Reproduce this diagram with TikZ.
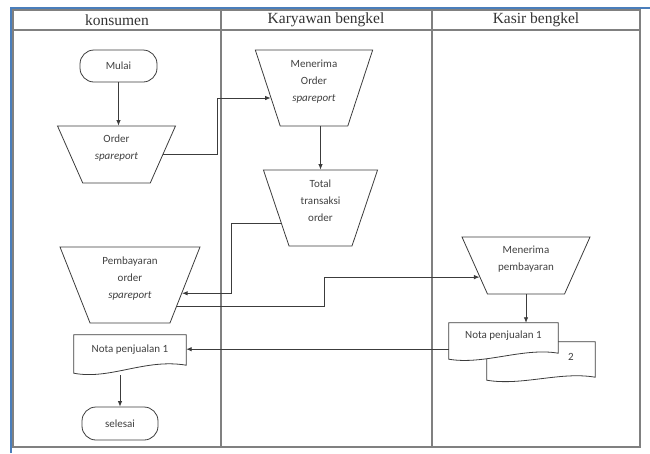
\documentclass[tikz,border=0pt]{standalone}
\usepackage{fontspec}
\setmainfont{Liberation Serif}
\newfontfamily\shapefont{Carlito}
\usetikzlibrary{shapes.geometric,arrows.meta,calc}
\pgfdeclarelayer{bg}
\pgfsetlayers{bg,main}
\definecolor{linegray}{HTML}{3C3C3C}
\definecolor{framegray}{HTML}{808080}
\definecolor{textgray}{HTML}{404040}
\definecolor{bordblue}{HTML}{4A7EBB}
\begin{document}
\begin{tikzpicture}[x=1pt,y=-1pt,
  lbl/.style={font=\shapefont\fontsize{11}{17}\selectfont, text=textgray, align=center, inner sep=3pt},
  head/.style={font=\fontsize{15.5}{18}\selectfont, text=black!80},
  term/.style={lbl, draw=linegray, line width=0.8pt, rounded corners=14pt, minimum width=77pt, minimum height=32pt},
  trap/.style={lbl, trapezium, draw=linegray, line width=0.8pt, trapezium stretches=true},
  doc/.style={lbl, inner sep=0pt},
  docline/.style={draw=linegray, line width=0.8pt, fill=white},
  arr/.style={draw=linegray, line width=0.8pt, -{Latex[length=5.5pt,width=4.5pt]}},
  frame/.style={draw=framegray, line width=1.5pt},
  blueline/.style={draw=bordblue, line width=2pt}
]
\useasboundingbox (0,0) rectangle (650,453);
% outer borders
\draw[blueline] (11,453) -- (11,8) -- (650,8);
\draw[frame] (13,10) rectangle (640,447);
\draw[frame] (13,30) -- (640,30);
\draw[frame] (221,10) -- (221,447);
\draw[frame] (432,10) -- (432,447);
% lane headers
\node[head] (h1) at (117,20) {konsumen};
\node[head] (h2) at (326,20) {Karyawan bengkel};
\node[head] (h3) at (536,20) {Kasir bengkel};
% konsumen
\node[term] (mulai) at (118.5,66) {Mulai};
\node[trap, trapezium left angle=112, trapezium right angle=112, minimum width=119pt, minimum height=57pt] (ord) at (116.5,154.5) {Order\\\textit{spareport}\\[-2pt]\mbox{}};
\node[trap, trapezium left angle=110.2, trapezium right angle=110.2, minimum width=140pt, minimum height=76pt] (pb) at (130,285) {Pembayaran\\order\\\textit{spareport}\\[-2pt]\mbox{}};
\node[doc, minimum width=112pt, minimum height=30pt] (nk) at (130,350) {Nota penjualan 1};
\node[term, minimum width=76pt, minimum height=33pt] (sel) at (120,423.5) {selesai};
% karyawan
\node[trap, trapezium left angle=107.2, trapezium right angle=107.2, minimum width=118pt, minimum height=76pt] (mo) at (314,88) {Menerima\\Order\\\textit{spareport}\\[-2pt]\mbox{}};
\node[trap, trapezium left angle=106.5, trapezium right angle=106.5, minimum width=115pt, minimum height=76pt] (to) at (320.5,208) {Total\\transaksi\\order\\[-2pt]\mbox{}};
% kasir
\node[trap, trapezium left angle=114.1, trapezium right angle=114.1, minimum width=128pt, minimum height=57pt] (mp) at (526,265.5) {Menerima\\pembayaran\\[-2pt]\mbox{}};
\node[doc, minimum width=108pt, minimum height=35pt] (nb) at (541,359.5) {};
\node[doc, minimum width=109pt, minimum height=26pt] (nf) at (503.5,336) {Nota penjualan 1};
\node[lbl, inner sep=0pt] (nb2) at (571,357) {2};
% document shapes
\begin{pgfonlayer}{bg}
\draw[docline] (nk.north west) -- (nk.north east) -- (nk.south east)
  .. controls +(-41,-7) and +(36,7) .. ([yshift=-8pt]nk.south west) -- cycle;
\draw[docline] (nb.north west) -- (nb.north east) -- (nb.south east)
  .. controls +(-35,-6) and +(35,6) .. ([yshift=-3pt]nb.south west) -- cycle;
\draw[docline] (nf.north west) -- (nf.north east) -- ([yshift=-4pt]nf.south east)
  .. controls +(-35,-6) and +(35,6) .. ([yshift=-10pt]nf.south west) -- cycle;
\end{pgfonlayer}
% connectors
\draw[arr] (mulai.south) -- (mulai.south |- ord.north);
\draw[arr] (ord.east) -| ($(mo.193)+(-53,0)$) -- (mo.193);
\draw[arr] (to.north |- mo.south) -- (to.north);
\draw[arr] (to.202) -| ($(pb.351)+(49,0)$) -- (pb.351);
\draw[arr] (pb.336) -| ($(mp.194)+(-155,0)$) -- (mp.194);
\draw[arr] (mp.south) -- (mp.south |- nf.north);
\draw[arr] (nf.south west) -- (nf.south west -| nk.east);
\draw[arr] ($(nk.south -| sel.north)+(0,10)$) -- (sel.north);
\end{tikzpicture}
\end{document}
